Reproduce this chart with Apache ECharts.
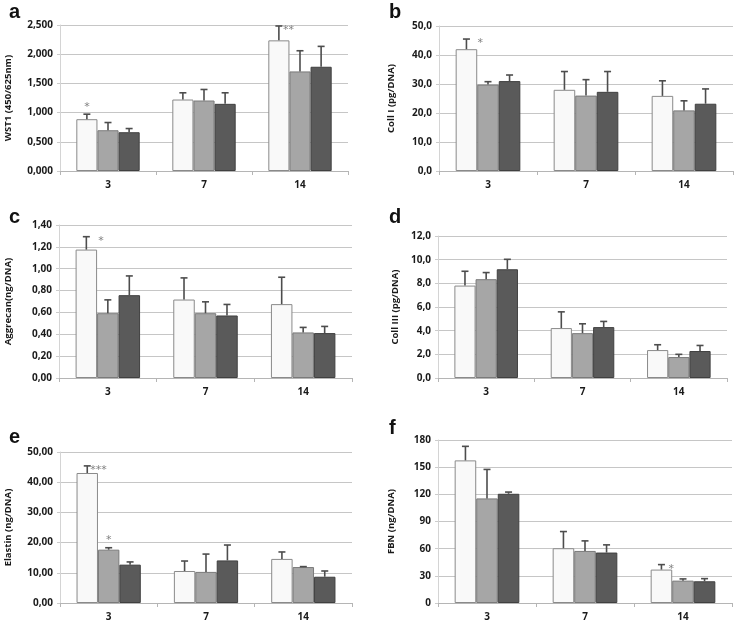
<!DOCTYPE html>
<html><head><meta charset="utf-8">
<script src="https://cdn.jsdelivr.net/npm/echarts@6/dist/echarts.min.js"></script>
<style>html,body{margin:0;padding:0;background:#fff}#c{width:734px;height:624px}</style>
</head><body><div id="c"></div>
<script>
const categories = ['3', '7', '14'];
const seriesNames = ['Group 1', 'Group 2', 'Group 3'];

// Panel a: WST1
const aMean = [[0.887, 1.224, 2.237], [0.698, 1.207, 1.705], [0.664, 1.150, 1.785]];
const aSD   = [[0.086, 0.115, 0.246], [0.132, 0.189, 0.354], [0.063, 0.189, 0.349]];
// Panel b: Coll I
const bMean = [[42.0, 28.0, 25.9], [29.8, 26.0, 20.9], [31.0, 27.3, 23.2]];
const bSD   = [[3.5, 6.3, 5.2], [1.0, 5.5, 3.3], [2.1, 7.0, 5.1]];
// Panel c: Aggrecan
const cMean = [[1.175, 0.718, 0.676], [0.593, 0.593, 0.417], [0.758, 0.572, 0.411]];
const cSD   = [[0.118, 0.198, 0.246], [0.122, 0.104, 0.046], [0.176, 0.101, 0.061]];
// Panel d: Coll III
const dMean = [[7.81, 4.22, 2.36], [8.35, 3.79, 1.77], [9.19, 4.30, 2.28]];
const dSD   = [[1.21, 1.37, 0.45], [0.56, 0.79, 0.23], [0.84, 0.48, 0.47]];
// Panel e: Elastin
const eMean = [[43.05, 10.6, 14.6], [17.66, 10.3, 11.9], [12.7, 14.1, 8.7]];
const eSD   = [[2.35, 3.3, 2.3], [0.64, 5.9, 0.15], [0.9, 5.1, 1.9]];
// Panel f: FBN
const fMean = [[157.5, 60.5, 36.9], [115.5, 57.5, 24.7], [120.6, 55.7, 24.0]];
const fSD   = [[15.5, 18.4, 5.5], [32.0, 11.1, 1.9], [1.9, 8.5, 2.9]];

// significance marks: [category index, series index, text, placement]
const aStars = [[0, 0, '*', 'top'], [2, 0, '**', 'right']];
const bStars = [[0, 0, '*', 'right']];
const cStars = [[0, 0, '*', 'right']];
const dStars = [];
const eStars = [[0, 0, '***', 'right'], [0, 1, '*', 'top']];
const fStars = [[2, 0, '*', 'right']];
// horizontal gap (px) between error bar and a right-placed mark, per panel
const starGaps = [2, 9, 10, 0, 1, 5];

const axisNames = ['WST1 (450/625nm)', 'Coll I (pg/DNA)', 'Aggrecan(ng/DNA)', 'Coll III (pg/DNA)', 'Elastin (ng/DNA)', 'FBN (ng/DNA)'];
const yMax = [2.5, 50, 1.4, 12, 50, 180];
const yStep = [0.5, 10, 0.2, 2, 10, 30];
const yDecimals = [3, 1, 2, 1, 2, 0];
const letters = ['a', 'b', 'c', 'd', 'e', 'f'];

const panels = [
  {mean: aMean, sd: aSD, stars: aStars, grid: {left: 60, top: 25, width: 288, height: 146}, nameGap: 47, letter: [9, 17]},
  {mean: bMean, sd: bSD, stars: bStars, grid: {left: 439, top: 26, width: 294, height: 145}, nameGap: 43, letter: [389, 17]},
  {mean: cMean, sd: cSD, stars: cStars, grid: {left: 59, top: 225, width: 293, height: 153}, nameGap: 46, letter: [9, 222]},
  {mean: dMean, sd: dSD, stars: dStars, grid: {left: 438, top: 236, width: 289, height: 142}, nameGap: 38, letter: [389, 222]},
  {mean: eMean, sd: eSD, stars: eStars, grid: {left: 60, top: 452, width: 292, height: 151}, nameGap: 47, letter: [9, 442]},
  {mean: fMean, sd: fSD, stars: fStars, grid: {left: 438, top: 440, width: 294, height: 163}, nameGap: 42, letter: [389, 433]}
];

const barColors = ['#f9f9f9', '#a6a6a6', '#5a5a5a'];
const barBorders = ['#8a8a8a', '#7a7a7a', '#404040'];
const BAR_FRAC = 0.22;
const FONT = '"Open Sans", "DejaVu Sans", sans-serif';

const grids = [], xAxes = [], yAxes = [], series = [], graphics = [];

panels.forEach((p, k) => {
  grids.push(Object.assign({containLabel: false}, p.grid));
  xAxes.push({
    type: 'category', gridIndex: k, data: categories,
    axisLine: {lineStyle: {color: '#b5b5b5', width: 1}},
    axisTick: {show: true, length: 4, lineStyle: {color: '#b5b5b5'}},
    axisLabel: {fontFamily: FONT, fontWeight: 'bold', fontSize: 10, color: '#1a1a1a', margin: 9}
  });
  yAxes.push({
    type: 'value', gridIndex: k, min: 0, max: yMax[k], interval: yStep[k],
    name: axisNames[k], nameLocation: 'middle', nameGap: p.nameGap, nameRotate: 90,
    nameTextStyle: {fontFamily: FONT, fontWeight: 'bold', fontSize: 9.5, color: '#1a1a1a'},
    axisLine: {show: true, lineStyle: {color: '#d4d4d4'}},
    axisTick: {show: true, length: 3, lineStyle: {color: '#cccccc'}},
    splitLine: {lineStyle: {color: '#c6c6c6', width: 1}},
    axisLabel: {
      fontFamily: FONT, fontWeight: 'bold', fontSize: 10, color: '#1a1a1a', margin: 7,
      formatter: v => v.toFixed(yDecimals[k]).replace('.', ',')
    }
  });
  for (let s = 0; s < 3; s++) {
    series.push({
      type: 'bar', name: seriesNames[s], xAxisIndex: k, yAxisIndex: k,
      data: p.mean[s], barWidth: (BAR_FRAC * 100) + '%', barGap: '0%',
      itemStyle: {color: barColors[s], borderColor: barBorders[s], borderWidth: 1},
      silent: true
    });
  }
  const errData = [];
  for (let s = 0; s < 3; s++) {
    for (let c = 0; c < 3; c++) {
      errData.push([c, p.mean[s][c], p.mean[s][c] + p.sd[s][c], s]);
    }
  }
  series.push({
    type: 'custom', xAxisIndex: k, yAxisIndex: k, z: 10, silent: true,
    data: errData,
    renderItem: function (params, api) {
      const cat = api.value(0), s = api.value(3);
      const base = api.coord([cat, api.value(1)]);
      const top = api.coord([cat, api.value(2)]);
      const band = api.size([1, 0])[0];
      const x = base[0] + (s - 1) * band * BAR_FRAC;
      const st = {stroke: '#4d4d4d', lineWidth: 1.6};
      return {
        type: 'group', children: [
          {type: 'line', shape: {x1: x, y1: base[1], x2: x, y2: top[1]}, style: st},
          {type: 'line', shape: {x1: x - 3.5, y1: top[1], x2: x + 3.5, y2: top[1]}, style: st}
        ]
      };
    }
  });
  const starData = p.stars.map(st => [st[0], p.mean[st[1]][st[0]] + p.sd[st[1]][st[0]], st[1]]);
  if (starData.length) {
    series.push({
      type: 'custom', xAxisIndex: k, yAxisIndex: k, z: 11, silent: true,
      data: starData,
      renderItem: function (params, api) {
        const st = p.stars[params.dataIndex];
        const cat = api.value(0), s = api.value(2);
        const top = api.coord([cat, api.value(1)]);
        const band = api.size([1, 0])[0];
        const x = top[0] + (s - 1) * band * BAR_FRAC;
        const isTop = st[3] === 'top';
        return {
          type: 'text',
          style: {
            text: st[2], x: isTop ? x : x + 2 + starGaps[k], y: isTop ? top[1] - 2 : top[1] - 1,
            fill: '#808080', font: '11px "DejaVu Sans", sans-serif',
            align: isTop ? 'center' : 'left', verticalAlign: isTop ? 'bottom' : 'top'
          }
        };
      }
    });
  }
  graphics.push({
    type: 'text', left: p.letter[0], top: p.letter[1] - 15,
    style: {text: letters[k], font: 'bold 20px "Liberation Sans", Arial, sans-serif', fill: '#111'}
  });
});

const chart = echarts.init(document.getElementById('c'), null, {renderer: 'canvas'});
chart.setOption({
  animation: false,
  backgroundColor: '#ffffff',
  grid: grids, xAxis: xAxes, yAxis: yAxes, series: series, graphic: graphics
});
</script>
</body></html>
